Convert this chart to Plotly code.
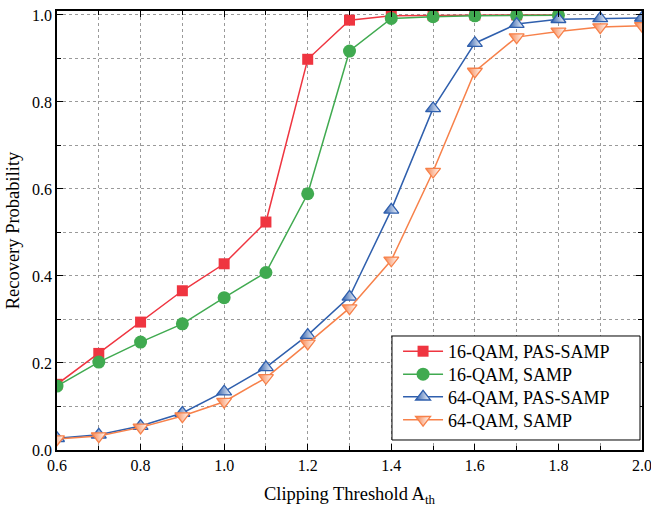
import plotly.graph_objects as go

x16 = [0.6, 0.7, 0.8, 0.9, 1.0, 1.1, 1.2, 1.3, 1.4, 1.5, 1.6, 1.7, 1.8]
y16_pas = [0.151, 0.222, 0.294, 0.366, 0.428, 0.524, 0.898, 0.988, 0.998, 0.999, 1.0, 1.0, 1.0]
y16_samp = [0.147, 0.202, 0.248, 0.290, 0.350, 0.408, 0.589, 0.917, 0.992, 0.996, 0.998, 0.999, 0.999]
x64 = [0.6, 0.7, 0.8, 0.9, 1.0, 1.1, 1.2, 1.3, 1.4, 1.5, 1.6, 1.7, 1.8, 1.9, 2.0]
y64_pas = [0.027, 0.035, 0.055, 0.085, 0.134, 0.190, 0.264, 0.352, 0.552, 0.785, 0.935, 0.979, 0.990, 0.992, 0.993]
y64_samp = [0.025, 0.032, 0.052, 0.078, 0.111, 0.166, 0.245, 0.326, 0.436, 0.640, 0.870, 0.949, 0.962, 0.972, 0.975]

RED = "#EF3540"
GREEN = "#40AA50"
BLUE = "#2F5FAD"
ORANGE = "#F7814A"
FONT = "Liberation Serif, Times New Roman, serif"

fig = go.Figure()
fig.add_trace(go.Scatter(x=x16, y=y16_pas, name="16-QAM, PAS-SAMP", mode="lines+markers",
                         legend="legend", showlegend=True,
                         line=dict(color=RED, width=1.5),
                         marker=dict(symbol="square", size=11, color=RED)))
fig.add_trace(go.Scatter(x=x16, y=y16_samp, name="16-QAM, SAMP", mode="lines+markers",
                         legend="legend2", showlegend=True,
                         line=dict(color=GREEN, width=1.5),
                         marker=dict(symbol="circle", size=13, color=GREEN)))
fig.add_trace(go.Scatter(x=x64, y=y64_pas, name="64-QAM, PAS-SAMP", mode="lines+markers",
                         legend="legend3", showlegend=True,
                         line=dict(color=BLUE, width=1.5),
                         marker=dict(symbol="triangle-up", size=13, color=BLUE,
                                     gradient=dict(type="horizontal", color="white"),
                                     line=dict(color=BLUE, width=1.3))))
fig.add_trace(go.Scatter(x=x64, y=y64_samp, name="64-QAM, SAMP", mode="lines+markers",
                         legend="legend4", showlegend=True,
                         line=dict(color=ORANGE, width=1.5),
                         marker=dict(symbol="triangle-down", size=13, color=ORANGE,
                                     gradient=dict(type="horizontal", color="white"),
                                     line=dict(color=ORANGE, width=1.3))))

axis_common = dict(
    showline=True, linecolor="black", linewidth=1.5, mirror="ticks",
    ticks="inside", ticklen=6, tickwidth=1.2, tickcolor="black",
    showgrid=True, gridcolor="#9A9A9A", gridwidth=1, griddash="dot",
    zeroline=False, tickformat=".1f", automargin=False, ticklabeloverflow="allow",
    tickfont=dict(family=FONT, size=16, color="black"),
)

fig.update_xaxes(range=[0.6, 2.0], dtick=0.2, tick0=0.6,
                 minor=dict(dtick=0.1, ticks="inside", ticklen=4, tickcolor="black",
                            showgrid=True, gridcolor="#9A9A9A", griddash="dot"),
                 title=dict(text="Clipping Threshold A<sub>th</sub>",
                            font=dict(family=FONT, size=18.5, color="black"), standoff=14),
                 **axis_common)
fig.update_yaxes(range=[0, 1.009], dtick=0.2, tick0=0,
                 minor=dict(dtick=0.1, ticks="inside", ticklen=4, tickcolor="black",
                            showgrid=True, gridcolor="#9A9A9A", griddash="dot"),
                 title=dict(text="Recovery Probability",
                            font=dict(family=FONT, size=18.5, color="black"), standoff=8),
                 **axis_common)

# legend frame drawn as a box so its size matches the reference
fig.add_shape(type="rect", xref="paper", yref="paper",
              x0=0.5726, x1=0.9966, y0=0.0228, y1=0.2597,
              line=dict(color="black", width=1), fillcolor="white", layer="above")

legend_style = dict(x=0.583, xanchor="left", yanchor="top",
                    bgcolor="rgba(0,0,0,0)", borderwidth=0,
                    font=dict(family=FONT, size=18, color="black"), itemwidth=40)
legend_tops = [0.2665, 0.2141, 0.1628, 0.1104]

fig.update_layout(
    width=651, height=508,
    margin=dict(l=57, r=9, t=11, b=58),
    plot_bgcolor="white", paper_bgcolor="white",
    font=dict(family=FONT, color="black"),
    showlegend=True,
    legend=dict(y=legend_tops[0], **legend_style),
    legend2=dict(y=legend_tops[1], **legend_style),
    legend3=dict(y=legend_tops[2], **legend_style),
    legend4=dict(y=legend_tops[3], **legend_style),
)

fig.write_html("out.html")
